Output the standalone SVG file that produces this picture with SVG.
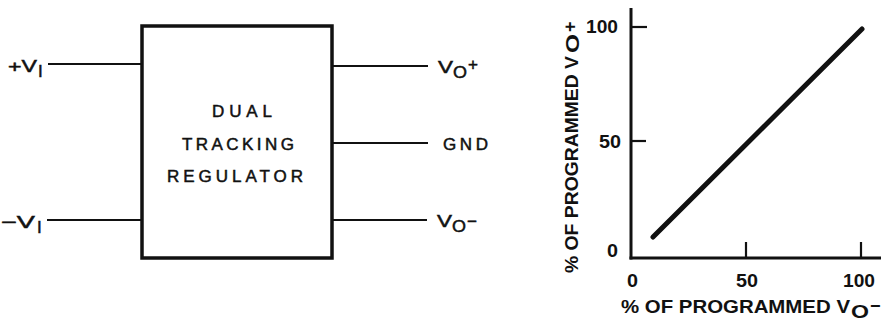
<svg xmlns="http://www.w3.org/2000/svg" width="896" height="323" viewBox="0 0 896 323">
<style>
.ln{stroke:#111;stroke-width:2.2;fill:none}
.ax{stroke:#111;stroke-width:3;fill:none}
.t{font-family:"Liberation Sans",Arial,sans-serif;fill:#111;stroke:#111;stroke-width:0.5;font-size:17px}
.b{font-family:"Liberation Sans",Arial,sans-serif;fill:#111;font-weight:bold;font-size:18px}
</style>
<rect width="896" height="323" fill="#fff"/>
<g id="regulator">
<rect x="142" y="26" width="190" height="232" fill="#fff" stroke="#111" stroke-width="3.5"/>
<text class="t" x="212" y="117" font-size="18" textLength="60" lengthAdjust="spacing">DUAL</text>
<text class="t" x="182" y="150" font-size="18" textLength="112" lengthAdjust="spacing">TRACKING</text>
<text class="t" x="167" y="182" font-size="18" textLength="136" lengthAdjust="spacing">REGULATOR</text>
</g>
<g id="connectors">
<line class="ln" x1="48" y1="64" x2="142" y2="64"/>
<line class="ln" x1="47" y1="220" x2="142" y2="220"/>
<line class="ln" x1="332" y1="66" x2="428" y2="66"/>
<line class="ln" x1="332" y1="143" x2="428" y2="143"/>
<line class="ln" x1="332" y1="220" x2="427" y2="220"/>
</g>
<g id="vi-plus">
<text class="t" x="8" y="72" textLength="29" lengthAdjust="spacingAndGlyphs">+V</text>
<text class="t" x="38" y="77" font-size="13">I</text>
</g>
<g id="vi-minus">
<text class="t" x="1" y="228" textLength="34" lengthAdjust="spacingAndGlyphs">−V</text>
<text class="t" x="37" y="233" font-size="13">I</text>
</g>
<g id="vo-plus">
<text class="t" x="438" y="73" textLength="15" lengthAdjust="spacingAndGlyphs">V</text>
<text class="t" x="453" y="78" font-size="15" textLength="14" lengthAdjust="spacingAndGlyphs">O</text>
<text class="t" x="468" y="70" font-size="14">+</text>
</g>
<g id="gnd">
<text class="t" x="443" y="150" textLength="45" lengthAdjust="spacing">GND</text>
</g>
<g id="vo-minus">
<text class="t" x="437" y="227" textLength="15" lengthAdjust="spacingAndGlyphs">V</text>
<text class="t" x="452" y="232" font-size="15" textLength="14" lengthAdjust="spacingAndGlyphs">O</text>
<text class="t" x="467" y="227" font-size="16">−</text>
</g>
<g id="graph">
<line class="ax" x1="631" y1="8" x2="631" y2="259.5"/>
<line class="ax" x1="629.5" y1="258" x2="881" y2="258"/>
<line class="ln" x1="631" y1="27" x2="647" y2="27"/>
<line class="ln" x1="631" y1="141" x2="646" y2="141"/>
<line class="ln" x1="746" y1="242" x2="746" y2="258"/>
<line class="ln" x1="861" y1="242" x2="861" y2="258"/>
<line x1="653" y1="237" x2="862" y2="29" stroke="#111" stroke-width="5" stroke-linecap="round"/>
<text class="b" x="586" y="33" textLength="32" lengthAdjust="spacingAndGlyphs">100</text>
<text class="b" x="599" y="148" textLength="22" lengthAdjust="spacingAndGlyphs">50</text>
<text class="b" x="607" y="257" textLength="11" lengthAdjust="spacingAndGlyphs">0</text>
<text class="b" x="627" y="287" textLength="11" lengthAdjust="spacingAndGlyphs">0</text>
<text class="b" x="736" y="287" textLength="22" lengthAdjust="spacingAndGlyphs">50</text>
<text class="b" x="843" y="287" textLength="32" lengthAdjust="spacingAndGlyphs">100</text>
</g>
<g id="x-label">
<text class="b" x="621" y="313" font-size="20" textLength="229" lengthAdjust="spacingAndGlyphs">% OF PROGRAMMED V</text>
<text class="b" x="851" y="318" font-size="16" textLength="18" lengthAdjust="spacingAndGlyphs">O</text>
<text class="b" x="870" y="312" font-size="18">−</text>
</g>
<g id="y-label" transform="translate(578,273) rotate(-90)">
<text class="b" x="0" y="0" font-size="20" textLength="217" lengthAdjust="spacingAndGlyphs">% OF PROGRAMMED V</text>
<text class="b" x="220" y="1" font-size="17" textLength="19" lengthAdjust="spacingAndGlyphs">O</text>
<text class="b" x="241" y="-2" font-size="17">+</text>
</g>
</svg>
